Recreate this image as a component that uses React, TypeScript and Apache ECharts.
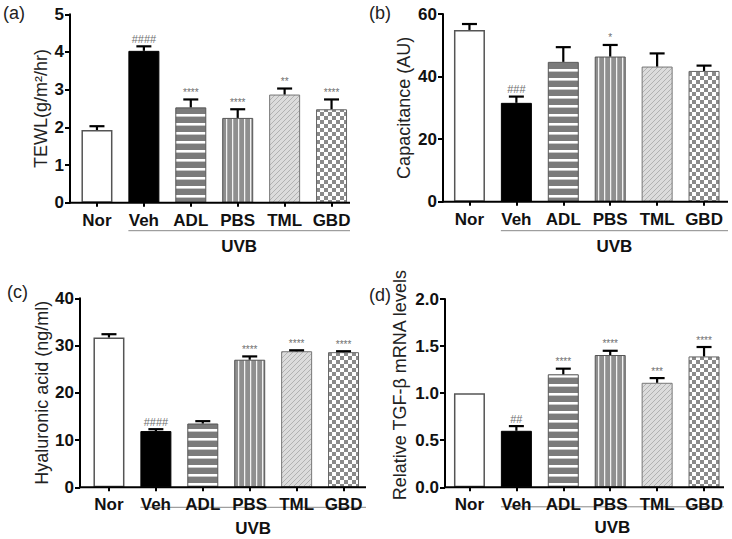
import React, { useEffect, useRef } from 'react';
import * as echarts from 'echarts';

const categories = ['Nor', 'Veh', 'ADL', 'PBS', 'TML', 'GBD'];
const groupLabel = 'UVB';
const panelLabels = ['(a)', '(b)', '(c)', '(d)'];
const yTitles = ['TEWL(g/m²/hr)', 'Capacitance (AU)', 'Hyaluronic acid (ng/ml)', 'Relative TGF-β mRNA levels'];

const tewlMean = [1.93, 4.03, 2.53, 2.25, 2.87, 2.48];
const tewlErr = [0.1, 0.12, 0.21, 0.23, 0.16, 0.26];
const tewlSig = ['', '####', '****', '****', '**', '****'];

const capMean = [54.9, 31.6, 44.7, 46.4, 43.2, 41.8];
const capErr = [1.9, 2.0, 4.7, 3.7, 4.2, 1.7];
const capSig = ['', '###', '', '*', '', ''];

const haMean = [31.7, 11.9, 13.5, 27.0, 28.8, 28.6];
const haErr = [0.7, 0.4, 0.5, 0.7, 0.2, 0.2];
const haSig = ['', '####', '', '****', '****', '****'];

const tgfMean = [1.0, 0.6, 1.2, 1.405, 1.11, 1.39];
const tgfErr = [0, 0.05, 0.06, 0.045, 0.05, 0.1];
const tgfSig = ['', '##', '****', '****', '***', '****'];

const yMax = [5, 60, 40, 2];
const yInterval = [1, 20, 10, 0.5];
const yDecimals = [0, 0, 0, 1];

const FONT = "'Liberation Sans', Arial, Helvetica, sans-serif";
const LABEL_SIZE = 17;
const TITLE_SIZE = 18;

const layout = [
  { left: 73.5, top: 14.3, width: 281.5, height: 188.4, yOff: 3.5, nameGap: 20, axisEnd: 350, uvbGap: 28, uvbTextGap: 16, lx: 3, ly: 13, namePad: 0 },
  { left: 446, top: 14, width: 281.5, height: 187.7, yOff: 3, nameGap: 30, axisEnd: 728, uvbGap: 29, uvbTextGap: 16, lx: 369, ly: 13, namePad: 0 },
  { left: 85.5, top: 298.3, width: 281.5, height: 189, yOff: 5.5, nameGap: 27, axisEnd: 366, uvbGap: 20, uvbTextGap: 21, lx: 7, ly: 292, namePad: 0 },
  { left: 446, top: 299, width: 281.5, height: 188.3, yOff: 1, nameGap: 36, axisEnd: 724, uvbGap: 19.5, uvbTextGap: 21, lx: 369, ly: 295, namePad: 16 },
];

function makeCanvas(w: number, h: number, draw: (ctx: CanvasRenderingContext2D) => void) {
  const c = document.createElement('canvas');
  c.width = w;
  c.height = h;
  const ctx = c.getContext('2d')!;
  draw(ctx);
  return c;
}

function pattern(c: HTMLCanvasElement) {
  return { image: c, repeat: 'repeat', imageWidth: c.width, imageHeight: c.height } as any;
}

function buildFills() {
  const hStripe = makeCanvas(4, 9, (ctx) => {
    ctx.fillStyle = '#7b7b7b';
    ctx.fillRect(0, 0, 4, 9);
    ctx.fillStyle = '#ffffff';
    ctx.fillRect(0, 6, 4, 2);
    ctx.fillStyle = '#c8c8c8';
    ctx.fillRect(0, 8, 4, 1);
  });
  const vStripe = makeCanvas(6, 2, (ctx) => {
    ctx.fillStyle = '#8f8f8f';
    ctx.fillRect(0, 0, 6, 2);
    ctx.fillStyle = '#f2f2f2';
    ctx.fillRect(4, 0, 1, 2);
    ctx.fillStyle = '#a8a8a8';
    ctx.fillRect(5, 0, 1, 2);
  });
  const diag = makeCanvas(5, 5, (ctx) => {
    ctx.fillStyle = '#dcdcdc';
    ctx.fillRect(0, 0, 5, 5);
    ctx.fillStyle = '#b2b2b2';
    for (let i = 0; i < 5; i++) ctx.fillRect(i, 4 - i, 1, 1);
  });
  const checker = makeCanvas(8, 8, (ctx) => {
    ctx.fillStyle = '#ffffff';
    ctx.fillRect(0, 0, 8, 8);
    ctx.fillStyle = '#8a8a8a';
    ctx.fillRect(0, 0, 4, 4);
    ctx.fillRect(4, 4, 4, 4);
  });
  return [
    { color: '#ffffff', borderColor: '#555555', borderWidth: 1.5 },
    { color: '#000000', borderColor: '#000000', borderWidth: 1 },
    { color: pattern(hStripe), borderColor: '#555555', borderWidth: 1 },
    { color: pattern(vStripe), borderColor: '#555555', borderWidth: 1 },
    { color: pattern(diag), borderColor: '#777777', borderWidth: 1 },
    { color: pattern(checker), borderColor: '#666666', borderWidth: 1 },
  ];
}

export default function App() {
  const ref = useRef<HTMLDivElement>(null);

  useEffect(() => {
    document.body.style.margin = '0';
    const chart = echarts.init(ref.current!, null, { renderer: 'svg' });
    const fills = buildFills();
    const means = [tewlMean, capMean, haMean, tgfMean];
    const errs = [tewlErr, capErr, haErr, tgfErr];
    const sigs = [tewlSig, capSig, haSig, tgfSig];

    const grid = layout.map((l) => ({ left: l.left, top: l.top, width: l.width, height: l.height }));
    const xAxis = layout.map((l, k) => ({
      type: 'category',
      gridIndex: k,
      data: categories,
      axisLine: { show: false },
      axisTick: { show: true, alignWithLabel: true, length: 4, lineStyle: { color: '#000', width: 2 } },
      axisLabel: { interval: 0, hideOverlap: false, color: '#111', fontSize: LABEL_SIZE, fontWeight: 'bold', fontFamily: FONT, margin: 9 },
    }));
    const yAxis = layout.map((l, k) => ({
      type: 'value',
      gridIndex: k,
      min: 0,
      max: yMax[k],
      interval: yInterval[k],
      offset: l.yOff,
      name: yTitles[k],
      nameLocation: 'middle',
      nameGap: l.nameGap,
      nameTextStyle: { fontSize: TITLE_SIZE, fontFamily: FONT, color: '#222', padding: [0, 0, 0, l.namePad] },
      axisLine: { show: true, lineStyle: { color: '#000', width: 2 } },
      axisTick: { show: true, length: 5, lineStyle: { color: '#000', width: 2 } },
      splitLine: { show: false },
      axisLabel: {
        color: '#111', fontSize: LABEL_SIZE, fontWeight: 'bold', fontFamily: FONT, margin: 6,
        formatter: (v: number) => v.toFixed(yDecimals[k]),
      },
    }));

    const series: any[] = [];
    layout.forEach((l, k) => {
      series.push({
        type: 'bar',
        xAxisIndex: k,
        yAxisIndex: k,
        barWidth: 31,
        data: means[k].map((v, i) => ({ value: v, itemStyle: fills[i] })),
      });
      series.push({
        type: 'custom',
        xAxisIndex: k,
        yAxisIndex: k,
        z: 5,
        data: means[k].map((v, i) => [i, v, errs[k][i]]),
        renderItem: (params: any, api: any) => {
          const i = api.value(0);
          const m = api.value(1);
          const e = api.value(2);
          const top = api.coord([i, m]);
          const et = api.coord([i, m + e]);
          const children: any[] = [];
          if (e > 0) {
            children.push({ type: 'line', shape: { x1: top[0], y1: top[1], x2: top[0], y2: et[1] }, style: { stroke: '#000', lineWidth: 2.2 } });
            children.push({ type: 'line', shape: { x1: top[0] - 7.5, y1: et[1], x2: top[0] + 7.5, y2: et[1] }, style: { stroke: '#000', lineWidth: 2.2 } });
          }
          const s = sigs[k][params.dataIndex];
          if (s) {
            children.push({
              type: 'text', x: top[0], y: et[1] - 2,
              style: { text: s, fill: '#707070', fontSize: s[0] === '#' ? 11 : 10, fontFamily: FONT, align: 'center', verticalAlign: 'bottom' },
            });
          }
          return { type: 'group', children };
        },
      });
    });

    chart.setOption({
      animation: false,
      backgroundColor: '#ffffff',
      grid,
      xAxis,
      yAxis,
      series,
    } as any);

    const graphic: any[] = [];
    layout.forEach((l, k) => {
      const vx = chart.convertToPixel({ xAxisIndex: k } as any, categories[1]) as unknown as number;
      const axisX = l.left - l.yOff;
      const bottom = l.top + l.height;
      const start = vx - 15.5;
      graphic.push({ type: 'line', shape: { x1: axisX - 1, y1: bottom, x2: l.axisEnd, y2: bottom }, style: { stroke: '#000', lineWidth: 2 }, z: 10 });
      graphic.push({ type: 'line', shape: { x1: start, y1: bottom + l.uvbGap, x2: l.axisEnd, y2: bottom + l.uvbGap }, style: { stroke: '#888', lineWidth: 1 } });
      graphic.push({
        type: 'text', x: (start + l.axisEnd) / 2, y: bottom + l.uvbGap + l.uvbTextGap,
        style: { text: groupLabel, fill: '#111', fontSize: LABEL_SIZE, fontWeight: 'bold', fontFamily: FONT, align: 'center', verticalAlign: 'middle' },
      });
      graphic.push({
        type: 'text', x: l.lx, y: l.ly,
        style: { text: panelLabels[k], fill: '#222', fontSize: TITLE_SIZE, fontFamily: FONT, align: 'left', verticalAlign: 'middle' },
      });
    });
    chart.setOption({ graphic });

    return () => chart.dispose();
  }, []);

  return <div ref={ref} style={{ width: 732, height: 539 }} />;
}
